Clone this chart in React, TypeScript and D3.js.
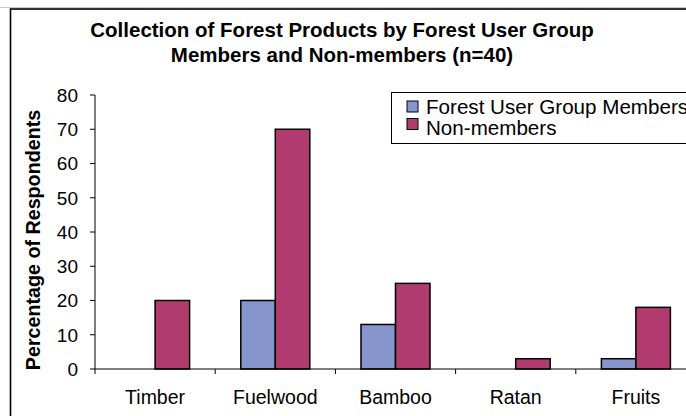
import React from "react";
import * as d3 from "d3";

const categories = ["Timber", "Fuelwood", "Bamboo", "Ratan", "Fruits"];
const seriesNames = ["Forest User Group Members", "Non-members"];
const membersValues = [0, 20, 13, 0, 3];
const nonMembersValues = [20, 70, 25, 3, 18];
const yTicks = [0, 10, 20, 30, 40, 50, 60, 70, 80];
const titleLines = [
  "Collection of Forest Products by Forest User Group",
  "Members and Non-members (n=40)",
];
const yAxisTitle = "Percentage of Respondents";

const colors = ["#8696CC", "#B13B6E"];
const FONT = "'Liberation Sans', Arial, Helvetica, sans-serif";

export default function App() {
  const W = 686;
  const H = 416;
  const x0 = 95;
  const band = 120.2;
  const x = d3
    .scaleBand<string>()
    .domain(categories)
    .range([x0, x0 + band * categories.length])
    .paddingInner(0)
    .paddingOuter(0);
  const y = d3.scaleLinear().domain([0, 80]).range([369, 95]);
  const bw = x.bandwidth() * 0.287;
  const sub = d3
    .scaleBand<string>()
    .domain(seriesNames)
    .range([-bw, bw]);
  const allSeries = [membersValues, nonMembersValues];

  const boundaries = d3.range(categories.length + 1).map((i) => x0 + band * i);

  return (
    <svg
      width={W}
      height={H}
      style={{ position: "absolute", left: 0, top: 0, background: "#fff" }}
      fontFamily={FONT}
    >
      <rect x={0} y={0} width={W} height={H} fill="#fff" />
      <line x1={0} x2={W} y1={7.5} y2={7.5} stroke="#c8c8c8" strokeWidth={1} />
      <rect x={10.5} y={9} width={W + 20} height={H + 20} fill="none" stroke="#000" strokeWidth={1.6} />

      {titleLines.map((t, i) => (
        <text
          key={i}
          x={342}
          y={37 + i * 25}
          textAnchor="middle"
          fontWeight="bold"
          fontSize={20.5}
          fill="#000"
        >
          {t}
        </text>
      ))}

      <text
        transform={`translate(40,240) rotate(-90)`}
        textAnchor="middle"
        fontWeight="bold"
        fontSize={19.7}
        fill="#000"
      >
        {yAxisTitle}
      </text>

      {/* bars */}
      {allSeries.map((vals, si) =>
        categories.map((c, ci) => {
          const v = vals[ci];
          if (!v) return null;
          const cx = (x(c) as number) + x.bandwidth() / 2;
          const bx = cx + (sub(seriesNames[si]) as number);
          return (
            <rect
              key={`${si}-${ci}`}
              x={bx}
              y={y(v)}
              width={sub.bandwidth()}
              height={y(0) - y(v)}
              fill={colors[si]}
              stroke="#000"
              strokeWidth={1.5}
            />
          );
        })
      )}

      {/* y axis */}
      <line x1={x0} x2={x0} y1={y(80)} y2={y(0)} stroke="#000" strokeWidth={1} />
      {yTicks.map((t) => (
        <g key={t}>
          <line x1={x0 - 5} x2={x0} y1={y(t)} y2={y(t)} stroke="#000" strokeWidth={1} />
          <text
            x={78}
            y={y(t)}
            dy="0.36em"
            textAnchor="end"
            fontSize={19}
            fill="#000"
          >
            {t}
          </text>
        </g>
      ))}

      {/* x axis */}
      <line x1={x0} x2={x0 + band * categories.length} y1={y(0)} y2={y(0)} stroke="#000" strokeWidth={1} />
      {boundaries.map((b, i) => (
        <line key={i} x1={b} x2={b} y1={y(0)} y2={y(0) + 5} stroke="#000" strokeWidth={1} />
      ))}
      {categories.map((c) => (
        <text
          key={c}
          x={(x(c) as number) + x.bandwidth() / 2}
          y={404}
          textAnchor="middle"
          fontSize={19.5}
          fill="#000"
        >
          {c}
        </text>
      ))}

      {/* legend */}
      <rect x={391.5} y={92.5} width={400} height={51} fill="#fff" stroke="#000" strokeWidth={1} />
      {seriesNames.map((s, i) => (
        <g key={s}>
          <rect
            x={407}
            y={101 + i * 17.5}
            width={11}
            height={11}
            fill={colors[i]}
            stroke="#000"
            strokeWidth={1}
          />
          <text x={426} y={114 + i * 20.5} fontSize={20.6} fill="#000">
            {s}
          </text>
        </g>
      ))}
    </svg>
  );
}
